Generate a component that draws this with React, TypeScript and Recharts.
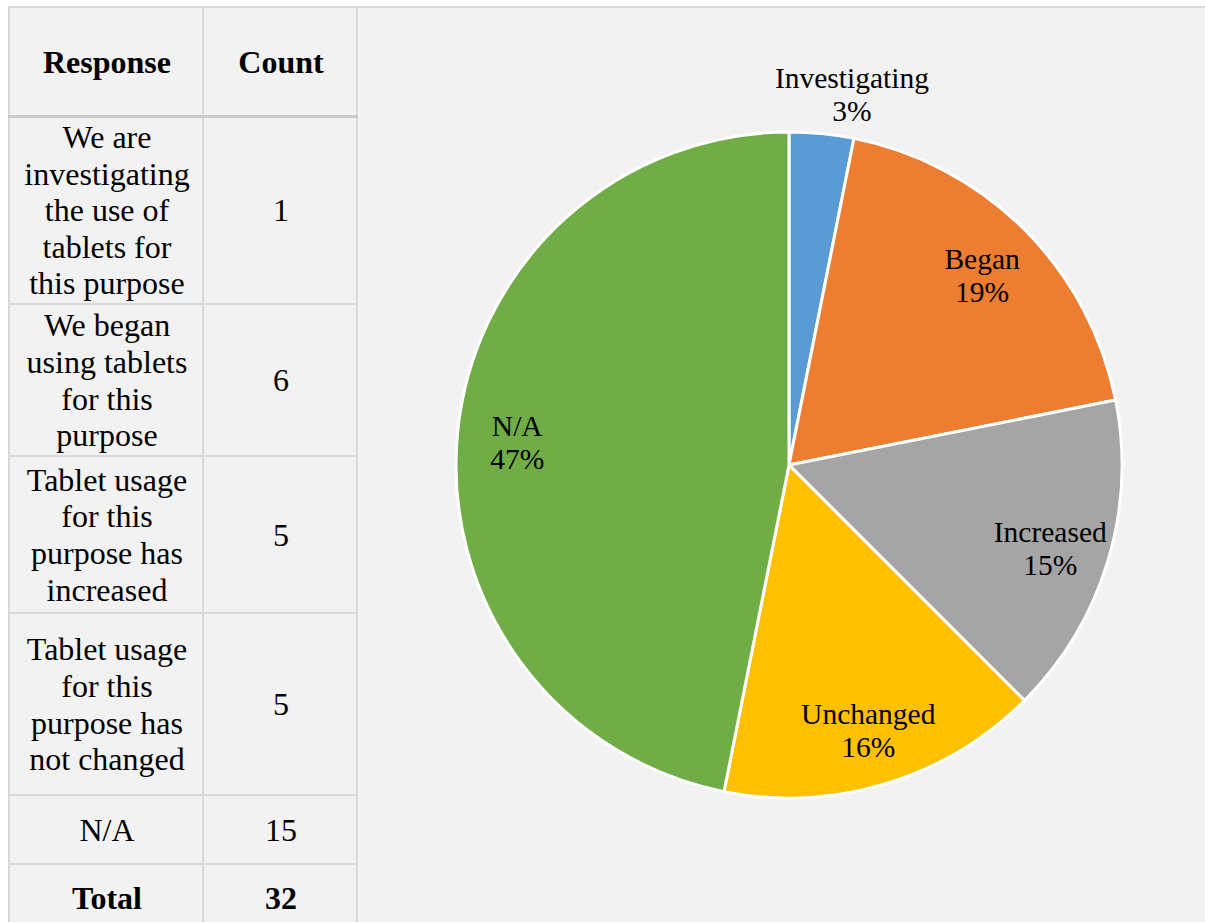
import React from 'react'
import { PieChart, Pie, Cell } from 'recharts'

// survey answers
const categories = ['Investigating', 'Began', 'Increased', 'Unchanged', 'N/A']
const counts = [1, 6, 5, 5, 15]
const percentLabels = ['3%', '19%', '15%', '16%', '47%']
const responses = [
  'We are\ninvestigating\nthe use of\ntablets for\nthis purpose',
  'We began\nusing tablets\nfor this\npurpose',
  'Tablet usage\nfor this\npurpose has\nincreased',
  'Tablet usage\nfor this\npurpose has\nnot changed',
  'N/A',
]
const colors = ['#5b9bd5', '#ed7d31', '#a5a5a5', '#ffc000', '#70ad47']

const total = counts.reduce((a, b) => a + b, 0)
const pieData = categories.map((name, i) => ({ name, value: counts[i] }))

const FONT = '"Liberation Serif", "Times New Roman", Tinos, serif'
const GRID = '#d9d9d9'

// table layout (row edges in px)
const rowEdges = [7, 116, 304, 456, 613, 795, 864, 932]
const colLeft = [9, 203]
const colWidth = [194, 154]

const cellStyle = (left: number, top: number, width: number, height: number, bold = false): React.CSSProperties => ({
  position: 'absolute',
  left,
  top,
  width,
  height,
  display: 'flex',
  alignItems: 'center',
  justifyContent: 'center',
  textAlign: 'center',
  whiteSpace: 'pre-line',
  fontFamily: FONT,
  fontSize: 32,
  lineHeight: '36.6px',
  fontWeight: bold ? 700 : 400,
  color: '#000',
})

const renderLabel = (props: any) => {
  const { cx, cy, midAngle, outerRadius, index } = props
  const RAD = Math.PI / 180
  const outside = counts[index] / total < 0.05
  // small slices get their label outside, nudged a little clockwise like Excel does
  const r = outside ? outerRadius * 1.13 : outerRadius * 0.82
  const a = outside ? midAngle - 4 : midAngle
  const x = cx + r * Math.cos(-a * RAD)
  const y = cy + r * Math.sin(-a * RAD) + (outside ? 0 : 4)
  return (
    <text x={x} y={y} textAnchor="middle" fontFamily={FONT} fontSize={29.5} fill="#000">
      <tspan x={x} y={y - 16.5} dominantBaseline="central">{categories[index]}</tspan>
      <tspan x={x} y={y + 16.5} dominantBaseline="central">{percentLabels[index]}</tspan>
    </text>
  )
}

export default function App() {
  const rows = [
    { label: 'Response', value: 'Count', bold: true },
    ...responses.map((r, i) => ({ label: r, value: String(counts[i]), bold: false })),
    { label: 'Total', value: String(total), bold: true },
  ]
  return (
    <div style={{ position: 'absolute', left: 0, top: 0, width: 1205, height: 922, overflow: 'hidden', background: '#fff', fontFamily: FONT }}>
      <div style={{ position: 'absolute', left: 8, top: 6, width: 1205, height: 930, background: '#f2f2f2' }} />
      {/* grid lines */}
      <div style={{ position: 'absolute', left: 8, top: 6, width: 1205, height: 2, background: GRID }} />
      <div style={{ position: 'absolute', left: 8, top: 6, width: 2, height: 930, background: GRID }} />
      <div style={{ position: 'absolute', left: 202, top: 6, width: 2, height: 930, background: GRID }} />
      <div style={{ position: 'absolute', left: 356, top: 6, width: 2, height: 930, background: GRID }} />
      <div style={{ position: 'absolute', left: 8, top: 115, width: 350, height: 3, background: '#c9c9c9' }} />
      {rowEdges.slice(2, 7).map((y) => (
        <div key={y} style={{ position: 'absolute', left: 8, top: y - 1, width: 350, height: 2, background: GRID }} />
      ))}
      {rows.map((row, i) => {
        const top = rowEdges[i] + 1
        const h = rowEdges[i + 1] - rowEdges[i] - 1
        return (
          <React.Fragment key={i}>
            <div style={cellStyle(colLeft[0] + 1, top, colWidth[0], h, row.bold)}>{row.label}</div>
            <div style={cellStyle(colLeft[1] + 1, top, colWidth[1], h, row.bold)}>{row.value}</div>
          </React.Fragment>
        )
      })}
      <div style={{ position: 'absolute', left: 358, top: 8, width: 847, height: 914 }}>
        <PieChart width={847} height={914} margin={{ top: 0, right: 0, bottom: 0, left: 0 }}>
          <Pie
            data={pieData}
            dataKey="value"
            nameKey="name"
            cx={431}
            cy={457}
            outerRadius={333}
            startAngle={90}
            endAngle={-270}
            stroke="#fff"
            strokeWidth={3}
            label={renderLabel}
            labelLine={false}
            isAnimationActive={false}
          >
            {pieData.map((d, i) => (
              <Cell key={d.name} fill={colors[i]} />
            ))}
          </Pie>
        </PieChart>
      </div>
    </div>
  )
}
